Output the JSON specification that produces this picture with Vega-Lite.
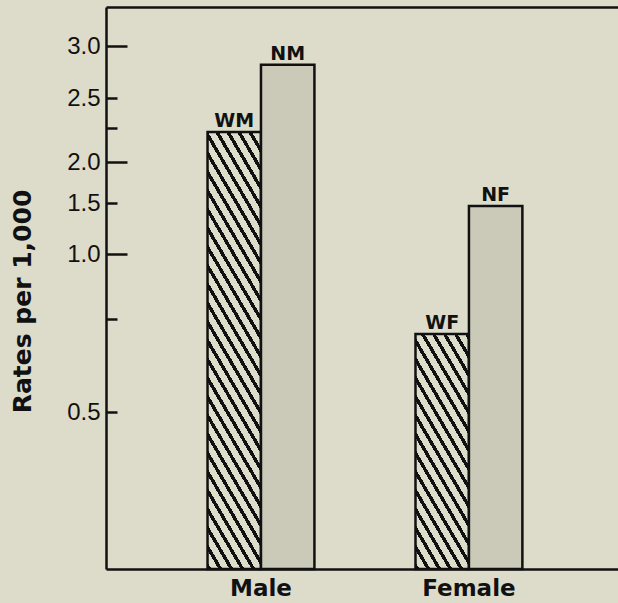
{
  "$schema": "https://vega.github.io/schema/vega-lite/v6.json",
  "width": 512,
  "height": 562,
  "autosize": {"type": "none"},
  "padding": {"left": 106, "top": 7, "right": 0, "bottom": 34},
  "background": "#dddccb",
  "config": {"view": {"stroke": null}},
  "data": {"values": [
    {"sex": "Male", "group": "W", "label": "WM", "rate": 2.22},
    {"sex": "Male", "group": "N", "label": "NM", "rate": 2.82},
    {"sex": "Female", "group": "W", "label": "WF", "rate": 0.71},
    {"sex": "Female", "group": "N", "label": "NF", "rate": 1.47}
  ]},
  "encoding": {
    "xOffset": {"field": "group", "type": "nominal", "sort": ["W", "N"], "scale": {"paddingInner": 0, "paddingOuter": 0}},
    "y": {
      "field": "rate", "type": "quantitative",
      "scale": {"domain": [0, 0.5, 0.75, 1, 1.5, 2, 2.25, 2.5, 3, 3.375], "range": [562, 405, 312, 247, 196, 155, 121, 91, 39, 0], "nice": false, "zero": false},
      "axis": {
        "values": [0.5, 0.75, 1, 1.5, 2, 2.25, 2.5, 3],
        "labelExpr": "datum.value === 0.75 || datum.value === 2.25 ? '' : format(datum.value, '.1f')",
        "grid": false,
        "domainColor": "#111", "domainWidth": 2.5,
        "tickColor": "#111", "tickWidth": 2.5,
        "tickSize": {"condition": {"test": "datum.value === 1 || datum.value === 2 || datum.value === 3", "value": -21}, "value": -11},
        "labelPadding": {"condition": {"test": "datum.value === 1 || datum.value === 2 || datum.value === 3", "value": 27}, "value": 17},
        "labelFont": "Liberation Sans", "labelFontSize": 24, "labelColor": "#111",
        "title": "Rates per 1,000",
        "titleFont": "DejaVu Sans", "titleFontSize": 25, "titleFontWeight": "bold", "titleColor": "#111",
        "titleX": -84, "titleY": 294, "titleAngle": -90, "titleBaseline": "middle", "titleAlign": "center"
      }
    }
  },
  "layer": [
    {
      "mark": {"type": "bar", "stroke": "#111", "strokeWidth": 2.5},
      "encoding": {
        "x": {
          "field": "sex", "type": "nominal", "sort": ["Male", "Female"],
          "scale": {"paddingInner": 0.486, "paddingOuter": 0.474, "align": 0.515},
          "axis": {"orient": "bottom", "title": null, "ticks": false, "labelAngle": 0, "domainColor": "#111", "domainWidth": 2.5, "labelFont": "DejaVu Sans", "labelFontWeight": "bold", "labelFontSize": 23, "labelColor": "#111", "labelPadding": 8}
        },
        "fill": {
          "condition": [
            {"test": "datum.label === 'WM'", "value": {"gradient": "linear", "x1": 0, "y1": 1, "x2": 0.3422, "y2": -0.644, "stops": [
              {"offset":0,"color":"#111"},{"offset":0.009,"color":"#111"},{"offset":0.009,"color":"#ddc"},{"offset":0.025,"color":"#ddc"},
              {"offset":0.025,"color":"#111"},{"offset":0.034,"color":"#111"},{"offset":0.034,"color":"#ddc"},{"offset":0.05,"color":"#ddc"},
              {"offset":0.05,"color":"#111"},{"offset":0.059,"color":"#111"},{"offset":0.059,"color":"#ddc"},{"offset":0.075,"color":"#ddc"},
              {"offset":0.075,"color":"#111"},{"offset":0.084,"color":"#111"},{"offset":0.084,"color":"#ddc"},{"offset":0.1,"color":"#ddc"},
              {"offset":0.1,"color":"#111"},{"offset":0.109,"color":"#111"},{"offset":0.109,"color":"#ddc"},{"offset":0.125,"color":"#ddc"},
              {"offset":0.125,"color":"#111"},{"offset":0.134,"color":"#111"},{"offset":0.134,"color":"#ddc"},{"offset":0.15,"color":"#ddc"},
              {"offset":0.15,"color":"#111"},{"offset":0.159,"color":"#111"},{"offset":0.159,"color":"#ddc"},{"offset":0.175,"color":"#ddc"},
              {"offset":0.175,"color":"#111"},{"offset":0.184,"color":"#111"},{"offset":0.184,"color":"#ddc"},{"offset":0.2,"color":"#ddc"},
              {"offset":0.2,"color":"#111"},{"offset":0.209,"color":"#111"},{"offset":0.209,"color":"#ddc"},{"offset":0.225,"color":"#ddc"},
              {"offset":0.225,"color":"#111"},{"offset":0.234,"color":"#111"},{"offset":0.234,"color":"#ddc"},{"offset":0.25,"color":"#ddc"},
              {"offset":0.25,"color":"#111"},{"offset":0.259,"color":"#111"},{"offset":0.259,"color":"#ddc"},{"offset":0.275,"color":"#ddc"},
              {"offset":0.275,"color":"#111"},{"offset":0.284,"color":"#111"},{"offset":0.284,"color":"#ddc"},{"offset":0.3,"color":"#ddc"},
              {"offset":0.3,"color":"#111"},{"offset":0.309,"color":"#111"},{"offset":0.309,"color":"#ddc"},{"offset":0.325,"color":"#ddc"},
              {"offset":0.325,"color":"#111"},{"offset":0.334,"color":"#111"},{"offset":0.334,"color":"#ddc"},{"offset":0.35,"color":"#ddc"},
              {"offset":0.35,"color":"#111"},{"offset":0.359,"color":"#111"},{"offset":0.359,"color":"#ddc"},{"offset":0.375,"color":"#ddc"},
              {"offset":0.375,"color":"#111"},{"offset":0.384,"color":"#111"},{"offset":0.384,"color":"#ddc"},{"offset":0.4,"color":"#ddc"},
              {"offset":0.4,"color":"#111"},{"offset":0.409,"color":"#111"},{"offset":0.409,"color":"#ddc"},{"offset":0.425,"color":"#ddc"},
              {"offset":0.425,"color":"#111"},{"offset":0.434,"color":"#111"},{"offset":0.434,"color":"#ddc"},{"offset":0.45,"color":"#ddc"},
              {"offset":0.45,"color":"#111"},{"offset":0.459,"color":"#111"},{"offset":0.459,"color":"#ddc"},{"offset":0.475,"color":"#ddc"},
              {"offset":0.475,"color":"#111"},{"offset":0.484,"color":"#111"},{"offset":0.484,"color":"#ddc"},{"offset":0.5,"color":"#ddc"},
              {"offset":0.5,"color":"#111"},{"offset":0.509,"color":"#111"},{"offset":0.509,"color":"#ddc"},{"offset":0.525,"color":"#ddc"},
              {"offset":0.525,"color":"#111"},{"offset":0.534,"color":"#111"},{"offset":0.534,"color":"#ddc"},{"offset":0.55,"color":"#ddc"},
              {"offset":0.55,"color":"#111"},{"offset":0.559,"color":"#111"},{"offset":0.559,"color":"#ddc"},{"offset":0.575,"color":"#ddc"},
              {"offset":0.575,"color":"#111"},{"offset":0.584,"color":"#111"},{"offset":0.584,"color":"#ddc"},{"offset":0.6,"color":"#ddc"},
              {"offset":0.6,"color":"#111"},{"offset":0.609,"color":"#111"},{"offset":0.609,"color":"#ddc"},{"offset":0.625,"color":"#ddc"},
              {"offset":0.625,"color":"#111"},{"offset":0.634,"color":"#111"},{"offset":0.634,"color":"#ddc"},{"offset":0.65,"color":"#ddc"},
              {"offset":0.65,"color":"#111"},{"offset":0.659,"color":"#111"},{"offset":0.659,"color":"#ddc"},{"offset":0.675,"color":"#ddc"},
              {"offset":0.675,"color":"#111"},{"offset":0.684,"color":"#111"},{"offset":0.684,"color":"#ddc"},{"offset":0.7,"color":"#ddc"},
              {"offset":0.7,"color":"#111"},{"offset":0.709,"color":"#111"},{"offset":0.709,"color":"#ddc"},{"offset":0.725,"color":"#ddc"},
              {"offset":0.725,"color":"#111"},{"offset":0.734,"color":"#111"},{"offset":0.734,"color":"#ddc"},{"offset":0.75,"color":"#ddc"}
            ]}},
            {"test": "datum.label === 'WF'", "value": {"gradient": "linear", "x1": 0, "y1": 1, "x2": 1.0736, "y2": -1.774, "stops": [
              {"offset":0,"color":"#111"},{"offset":0.009,"color":"#111"},{"offset":0.009,"color":"#ddc"},{"offset":0.025,"color":"#ddc"},
              {"offset":0.025,"color":"#111"},{"offset":0.034,"color":"#111"},{"offset":0.034,"color":"#ddc"},{"offset":0.05,"color":"#ddc"},
              {"offset":0.05,"color":"#111"},{"offset":0.059,"color":"#111"},{"offset":0.059,"color":"#ddc"},{"offset":0.075,"color":"#ddc"},
              {"offset":0.075,"color":"#111"},{"offset":0.084,"color":"#111"},{"offset":0.084,"color":"#ddc"},{"offset":0.1,"color":"#ddc"},
              {"offset":0.1,"color":"#111"},{"offset":0.109,"color":"#111"},{"offset":0.109,"color":"#ddc"},{"offset":0.125,"color":"#ddc"},
              {"offset":0.125,"color":"#111"},{"offset":0.134,"color":"#111"},{"offset":0.134,"color":"#ddc"},{"offset":0.15,"color":"#ddc"},
              {"offset":0.15,"color":"#111"},{"offset":0.159,"color":"#111"},{"offset":0.159,"color":"#ddc"},{"offset":0.175,"color":"#ddc"},
              {"offset":0.175,"color":"#111"},{"offset":0.184,"color":"#111"},{"offset":0.184,"color":"#ddc"},{"offset":0.2,"color":"#ddc"},
              {"offset":0.2,"color":"#111"},{"offset":0.209,"color":"#111"},{"offset":0.209,"color":"#ddc"},{"offset":0.225,"color":"#ddc"},
              {"offset":0.225,"color":"#111"},{"offset":0.234,"color":"#111"},{"offset":0.234,"color":"#ddc"},{"offset":0.25,"color":"#ddc"},
              {"offset":0.25,"color":"#111"},{"offset":0.259,"color":"#111"},{"offset":0.259,"color":"#ddc"},{"offset":0.275,"color":"#ddc"},
              {"offset":0.275,"color":"#111"},{"offset":0.284,"color":"#111"},{"offset":0.284,"color":"#ddc"},{"offset":0.3,"color":"#ddc"},
              {"offset":0.3,"color":"#111"},{"offset":0.309,"color":"#111"},{"offset":0.309,"color":"#ddc"},{"offset":0.325,"color":"#ddc"},
              {"offset":0.325,"color":"#111"},{"offset":0.334,"color":"#111"},{"offset":0.334,"color":"#ddc"},{"offset":0.35,"color":"#ddc"},
              {"offset":0.35,"color":"#111"},{"offset":0.359,"color":"#111"},{"offset":0.359,"color":"#ddc"},{"offset":0.375,"color":"#ddc"},
              {"offset":0.375,"color":"#111"},{"offset":0.384,"color":"#111"},{"offset":0.384,"color":"#ddc"},{"offset":0.4,"color":"#ddc"},
              {"offset":0.4,"color":"#111"},{"offset":0.409,"color":"#111"},{"offset":0.409,"color":"#ddc"},{"offset":0.425,"color":"#ddc"},
              {"offset":0.425,"color":"#111"},{"offset":0.434,"color":"#111"},{"offset":0.434,"color":"#ddc"},{"offset":0.45,"color":"#ddc"},
              {"offset":0.45,"color":"#111"},{"offset":0.459,"color":"#111"},{"offset":0.459,"color":"#ddc"},{"offset":0.475,"color":"#ddc"}
            ]}}
          ],
          "value": "#cbcab9"
        }
      }
    },
    {
      "mark": {"type": "text", "font": "DejaVu Sans", "fontWeight": "bold", "fontSize": 19, "baseline": "alphabetic", "dy": -5, "color": "#111"},
      "encoding": {
        "x": {
          "field": "sex", "type": "nominal", "sort": ["Male", "Female"],
          "axis": {"orient": "top", "title": null, "ticks": false, "labels": false, "domainColor": "#111", "domainWidth": 2.5}
        },
        "text": {"field": "label"}
      }
    }
  ],
  "resolve": {"axis": {"x": "independent"}}
}
